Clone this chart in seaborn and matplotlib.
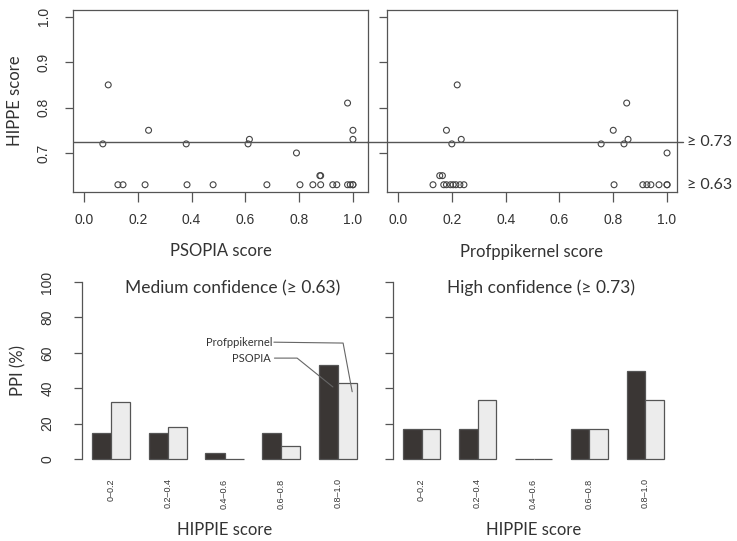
import numpy as np
import pandas as pd
import matplotlib
matplotlib.use("Agg")
import matplotlib.pyplot as plt
import seaborn as sns

# paired scores for the 27 interactions
hippie = [0.85, 0.81, 0.75, 0.75, 0.73, 0.73, 0.72, 0.72, 0.72, 0.70, 0.65, 0.65,
          0.63, 0.63, 0.63, 0.63, 0.63, 0.63, 0.63, 0.63, 0.63, 0.63, 0.63, 0.63,
          0.63, 0.63, 0.63]
psopia = [0.09, 0.98, 0.24, 1.0, 0.615, 1.0, 0.07, 0.38, 0.61, 0.79, 0.877, 0.88,
          0.126, 0.145, 0.227, 0.383, 0.48, 0.68, 0.803, 0.851, 0.88, 0.925, 0.94,
          0.98, 0.99, 1.0, 1.0]
profppi = [0.22, 0.85, 0.18, 0.80, 0.235, 0.855, 0.20, 0.755, 0.84, 1.0, 0.155, 0.165,
           0.13, 0.17, 0.18, 0.195, 0.205, 0.215, 0.23, 0.245, 0.803, 0.91, 0.925,
           0.94, 0.97, 1.0, 1.0]

# binned percentages
bins = ["0\u20130.2", "0.2\u20130.4", "0.4\u20130.6", "0.6\u20130.8", "0.8\u20131.0"]
medium_psopia = [14.5, 14.5, 3.5, 14.5, 53.3]
medium_prof = [32.0, 18.0, 0.0, 7.3, 43.0]
high_psopia = [16.7, 16.7, 0.0, 16.7, 50.0]
high_prof = [16.7, 33.3, 0.0, 16.7, 33.3]

sns.set_style("ticks")
plt.rcParams["font.family"] = ["Liberation Sans", "DejaVu Sans"]
LABEL_FONT = ["Lato", "Open Sans", "DejaVu Sans"]
TXT = "#333333"
LINE = "#555555"
DARK = "#3b3533"
LIGHT = "#ececec"

fig = plt.figure(figsize=(7.37, 5.41), dpi=100)
W, H = 737, 541


def px_axes(x0, y0, x1, y1):
    return fig.add_axes([x0 / W, 1 - y1 / H, (x1 - x0) / W, (y1 - y0) / H])


def style_axes(ax):
    for s in ax.spines.values():
        s.set_color(LINE)
        s.set_linewidth(0.9)
    ax.tick_params(colors=LINE, labelcolor=TXT, labelsize=10, width=0.9)


# ---- scatter plots ----
sc = pd.DataFrame({"hippie": hippie, "psopia": psopia, "profppi": profppi})
ax1 = px_axes(73, 10, 368, 192)
ax2 = px_axes(387, 10, 677, 192)

for ax, col, xlab, xlim in [(ax1, "psopia", "PSOPIA score", (-0.041, 1.056)),
                             (ax2, "profppi", "Profppikernel score", (-0.041, 1.037))]:
    sns.scatterplot(data=sc, x=col, y="hippie", ax=ax, marker="o", s=18,
                    facecolors="none", edgecolor="#444444", linewidth=0.8)
    style_axes(ax)
    ax.set_xlim(*xlim)
    ax.set_ylim(0.614, 1.015)
    ax.set_xticks([0.0, 0.2, 0.4, 0.6, 0.8, 1.0])
    ax.set_xticklabels(["0.0", "0.2", "0.4", "0.6", "0.8", "1.0"])
    ax.set_yticks([0.7, 0.8, 0.9, 1.0])
    ax.tick_params(axis="x", length=7, pad=8)
    ax.tick_params(axis="y", length=6, pad=10)
    ax.set_xlabel(xlab, family=LABEL_FONT, fontsize=12, color=TXT, labelpad=12)
    ax.set_ylabel("")

ax1.set_yticklabels(["0.7", "0.8", "0.9", "1.0"], rotation=90, va="center")
ax1.set_ylabel("HIPPE score", family=LABEL_FONT, fontsize=12, color=TXT, labelpad=10)
ax2.set_yticklabels([])

ax1.axhline(0.725, color=LINE, lw=1.0)
ax2.axhline(0.725, xmin=-0.07, xmax=1.02, color=LINE, lw=1.0, clip_on=False)
ax2.text(1.035, 0.725, "\u2265 0.73", transform=ax2.get_yaxis_transform(),
         family=LABEL_FONT, fontsize=11.5, color=TXT, va="center", ha="left")
ax2.text(1.035, 0.63, "\u2265 0.63", transform=ax2.get_yaxis_transform(),
         family=LABEL_FONT, fontsize=11.5, color=TXT, va="center", ha="left")

# ---- bar plots ----
ax3 = px_axes(82, 282, 367, 459)
ax4 = px_axes(393, 282, 674, 459)

panels = [(ax3, medium_psopia, medium_prof, "Medium confidence (\u2265 0.63)"),
          (ax4, high_psopia, high_prof, "High confidence (\u2265 0.73)")]
for ax, ps, pk, title in panels:
    df = pd.DataFrame({"bin": bins * 2, "pct": ps + pk,
                       "method": ["PSOPIA"] * 5 + ["Profppikernel"] * 5})
    sns.barplot(data=df, x="bin", y="pct", hue="method", ax=ax,
                palette=[DARK, LIGHT], width=0.67, gap=0, edgecolor=LINE,
                linewidth=0.9, legend=False)
    for p in ax.patches:
        p.set_clip_on(False)
    style_axes(ax)
    sns.despine(ax=ax, bottom=True)
    ax.set_xlim(-0.511, 4.511)
    ax.set_ylim(0, 100)
    ax.set_yticks([0, 20, 40, 60, 80, 100])
    ax.tick_params(axis="y", length=6, pad=14)
    ax.tick_params(axis="x", length=0, pad=14, labelsize=6.5)
    for t in ax.get_xticklabels():
        t.set_rotation(90)
        t.set_va("top")
    ax.set_xlabel("HIPPIE score", family=LABEL_FONT, fontsize=12, color=TXT, labelpad=10)
    ax.set_ylabel("")
    ax.text(2.14, 96.5, title, family=LABEL_FONT, fontsize=12.5, color=TXT,
            ha="center", va="center")

ax3.set_yticklabels(["0", "20", "40", "60", "80", "100"], rotation=90, va="center")
ax3.set_ylabel("PPI (%)", family=LABEL_FONT, fontsize=12, color=TXT, labelpad=10)
ax4.set_yticklabels([])

# leader labels for the two series
ax3.plot([2.87, 4.09, 4.25], [66, 65.5, 38], color="#666666", lw=0.8, clip_on=False)
ax3.text(2.84, 66, "Profppikernel", family=LABEL_FONT, fontsize=8, color=TXT,
         ha="right", va="center")
ax3.plot([2.88, 3.28, 3.91], [57, 57, 40.7], color="#666666", lw=0.8, clip_on=False)
ax3.text(2.81, 57, "PSOPIA", family=LABEL_FONT, fontsize=8, color=TXT,
         ha="right", va="center")

fig.savefig("out.png", dpi=100)
